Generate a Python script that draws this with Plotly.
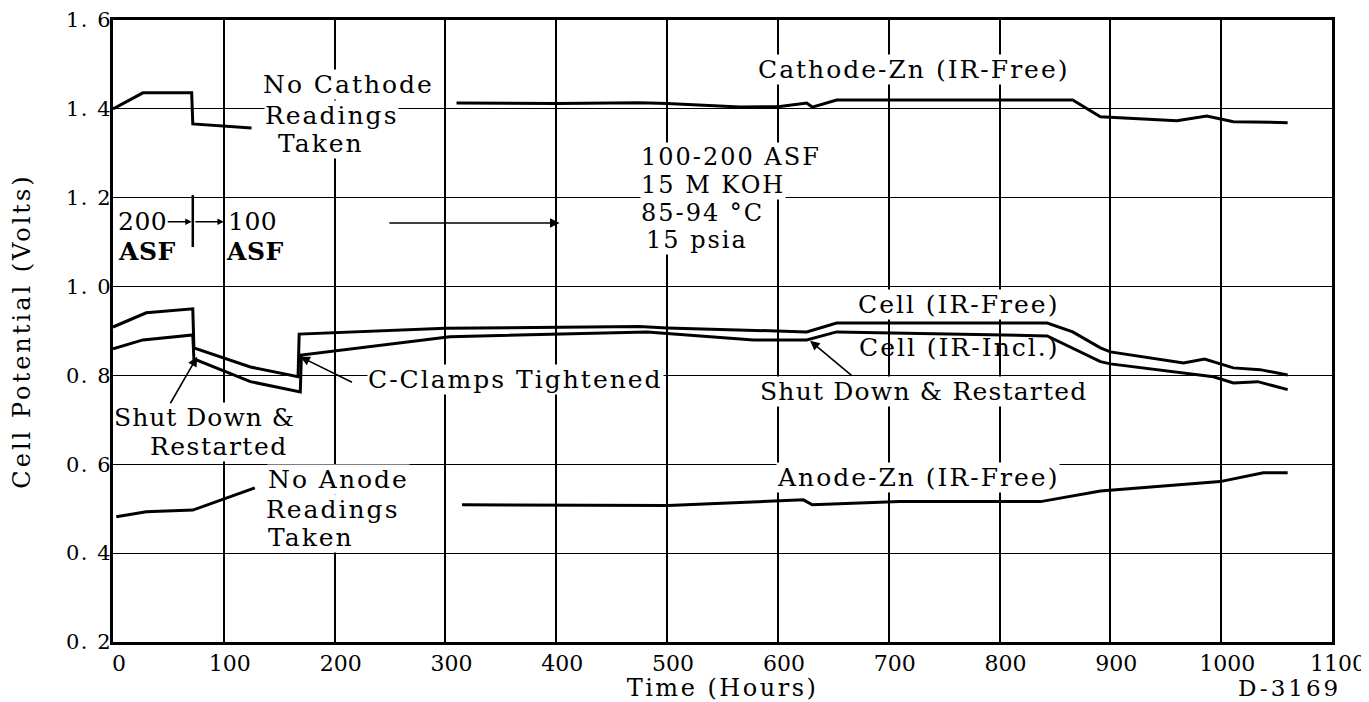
import plotly.graph_objects as go

# ---------------- data ----------------
cathode_early_t = [0, 27, 71, 72, 125]
cathode_early_v = [1.400, 1.436, 1.436, 1.366, 1.357]

cathode_t = [310, 400, 475, 500, 566, 600, 626, 631, 653, 700, 800, 866, 891, 960, 987, 1011, 1060]
cathode_v = [1.413, 1.412, 1.414, 1.412, 1.404, 1.405, 1.413, 1.404, 1.420, 1.420, 1.420, 1.420, 1.382, 1.373, 1.384, 1.371, 1.369]

cell_free_t = [0, 30, 72, 73, 124, 167, 168, 300, 475, 500, 626, 653, 843, 866, 891, 900, 966, 985, 1011, 1035, 1060]
cell_free_v = [0.909, 0.941, 0.950, 0.862, 0.819, 0.797, 0.893, 0.906, 0.910, 0.907, 0.898, 0.918, 0.918, 0.898, 0.862, 0.853, 0.828, 0.837, 0.817, 0.813, 0.801]

cell_incl_t = [0, 27, 72, 73, 124, 169, 170, 304, 482, 578, 626, 653, 843, 891, 900, 993, 1011, 1033, 1060]
cell_incl_v = [0.860, 0.880, 0.891, 0.837, 0.786, 0.763, 0.846, 0.887, 0.898, 0.880, 0.880, 0.898, 0.889, 0.831, 0.826, 0.797, 0.783, 0.786, 0.768]

anode_early_t = [3, 30, 72, 128]
anode_early_v = [0.482, 0.493, 0.497, 0.547]

anode_t = [315, 400, 501, 602, 623, 631, 710, 837, 891, 999, 1038, 1060]
anode_v = [0.509, 0.508, 0.507, 0.518, 0.520, 0.509, 0.516, 0.516, 0.540, 0.561, 0.581, 0.581]

x_ticks = [0, 100, 200, 300, 400, 500, 600, 700, 800, 900, 1000, 1100]
y_ticks = [0.2, 0.4, 0.6, 0.8, 1.0, 1.2, 1.4, 1.6]
y_ticktext = ["0. 2", "0. 4", "0. 6", "0. 8", "1. 0", "1. 2", "1. 4", "1. 6"]

FONT = "DejaVu Serif"


def sp(text, ls=2):
    return f'<span style="letter-spacing:{ls}px">{text}</span>'


fig = go.Figure()
line_style = dict(color="black", width=3)
for t, v in [(cathode_early_t, cathode_early_v), (cathode_t, cathode_v),
             (cell_free_t, cell_free_v), (cell_incl_t, cell_incl_v),
             (anode_early_t, anode_early_v), (anode_t, anode_v)]:
    fig.add_trace(go.Scatter(x=t, y=v, mode="lines", line=line_style,
                             showlegend=False, hoverinfo="skip"))

annots = []


def txt(text, x, y, xanchor="center", size=25, ls=2, bg=True, bold=False):
    t = sp(text, ls)
    if bold:
        t = "<b>" + t + "</b>"
    annots.append(dict(text=t, x=x, y=y, xref="x", yref="y", xanchor=xanchor,
                       yanchor="middle", showarrow=False,
                       font=dict(family=FONT, size=size, color="black"),
                       bgcolor="white" if bg else None, borderpad=0))


def arrow(x, y, ax, ay, head=2, size=1.2):
    annots.append(dict(text="", x=x, y=y, ax=ax, ay=ay, xref="x", yref="y",
                       axref="x", ayref="y", showarrow=True, arrowhead=head,
                       arrowsize=size, arrowwidth=1.6, arrowcolor="black",
                       standoff=0, startstandoff=0))


txt("No Cathode", 134, 1.454, xanchor="left")
txt("Readings", 136, 1.386, xanchor="left")
txt("Taken", 148, 1.323, xanchor="left")

txt("Cathode-Zn (IR-Free)", 722, 1.488)

txt("100-200 ASF", 476, 1.292, xanchor="left", size=24)
txt("15 M KOH", 476, 1.228, xanchor="left", size=24)
txt("85-94 °C", 476, 1.166, xanchor="left", size=24)
txt("15 psia", 480, 1.104, xanchor="left", size=24)

txt("200", 4, 1.146, xanchor="left", ls=0.5)
txt("ASF", 4, 1.080, xanchor="left", ls=0.5, bold=True)
txt("100", 103, 1.146, xanchor="left", ls=0.5)
txt("ASF", 101, 1.080, xanchor="left", ls=0.5, bold=True)

txt("Cell (IR-Free)", 763, 0.959)
txt("Cell (IR-Incl.)", 763, 0.862, bg=False)
txt("Shut Down & Restarted", 731, 0.763, ls=1.2)
txt("C-Clamps Tightened", 363, 0.790)
txt("Shut Down &", 83, 0.705, ls=1)
txt("Restarted", 96, 0.639, ls=1.5)
txt("No Anode", 139, 0.565, xanchor="left")
txt("Readings", 137, 0.498, xanchor="left")
txt("Taken", 139, 0.435, xanchor="left")
txt("Anode-Zn (IR-Free)", 726, 0.570)

arrow(403, 1.143, 248, 1.143)
arrow(71, 1.146, 48, 1.146, size=0.8)
arrow(100, 1.146, 73, 1.146, size=0.8)
arrow(629, 0.878, 668, 0.797)
arrow(169, 0.842, 217, 0.783)
arrow(76, 0.842, 51, 0.734)

annots.append(dict(text=sp("D-3169", 3), x=1.009, y=-0.074, xref="paper", yref="paper",
                   xanchor="right", yanchor="middle", showarrow=False,
                   font=dict(family=FONT, size=23, color="black")))

# page has an 8px body margin, so the figure is offset by 8px
fig.update_layout(
    width=1361, height=694, autosize=False,
    margin=dict(l=105, r=37, t=12, b=60),
    paper_bgcolor="white", plot_bgcolor="white",
    annotations=annots,
    shapes=[dict(type="line", xref="x", yref="y", x0=72, x1=72, y0=1.089, y1=1.206,
                 line=dict(color="black", width=2.5))],
    font=dict(family=FONT, color="black"),
)
fig.update_xaxes(range=[0, 1100], tickvals=x_ticks, ticktext=[str(v) for v in x_ticks],
                 automargin=False,
                 showgrid=True, gridcolor="black", gridwidth=1.6, zeroline=False,
                 showline=True, mirror=True, linecolor="black", linewidth=2.5,
                 ticks="", tickfont=dict(family=FONT, size=22, color="black"),
                 ticklabelstandoff=0, ticklabelshift=6,
                 title=dict(text=sp("Time (Hours)", 2.5), standoff=0,
                            font=dict(family=FONT, size=24, color="black")))
fig.update_yaxes(range=[0.2, 1.6], tickvals=y_ticks, ticktext=[sp(t, 1.5) for t in y_ticktext],
                 automargin=False,
                 showgrid=True, gridcolor="black", gridwidth=1.4, zeroline=False,
                 showline=True, mirror=True, linecolor="black", linewidth=2.5,
                 ticks="", tickfont=dict(family=FONT, size=21, color="black"),
                 ticklabelstandoff=-6,
                 title=dict(text=sp("Cell Potential (Volts)", 3), standoff=30,
                            font=dict(family=FONT, size=24, color="black")))

fig.write_html("out.html")
